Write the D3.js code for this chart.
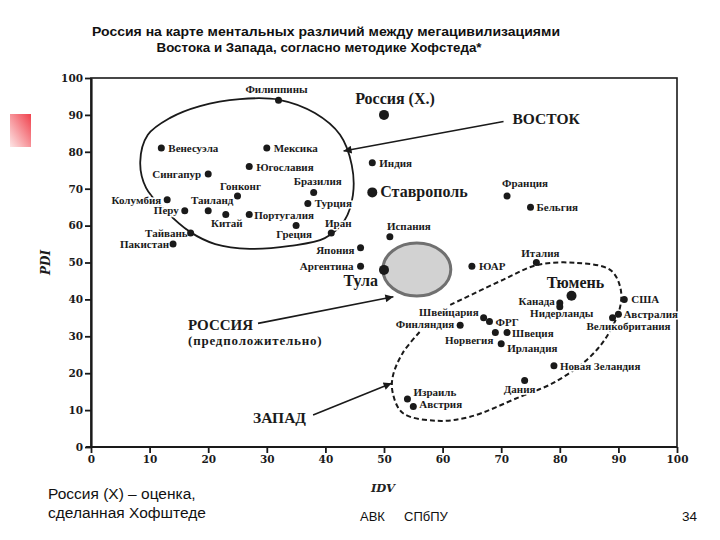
<!DOCTYPE html>
<html><head><meta charset="utf-8">
<script src="https://cdn.jsdelivr.net/npm/d3@7"></script>
<style>body{margin:0;background:#fff}svg{display:block}</style>
</head><body>
<svg id="c" width="720" height="540"></svg>
<script>
// ---- data ----
const countries = ["Филиппины","Венесуэла","Мексика","Югославия","Сингапур","Гонконг","Бразилия","Колумбия","Турция","Перу","Таиланд","Китай","Португалия","Греция","Иран","Тайвань","Пакистан","Япония","Аргентина","Индия","Франция","Бельгия","Испания","ЮАР","Италия","Канада","Нидерланды","США","Австралия","Великобритания","Швейцария","ФРГ","Финляндия","Норвегия","Швеция","Ирландия","Новая Зеландия","Дания","Израиль","Австрия"];
const idvValues = [32,12,30,27,20,25,38,13,37,16,20,23,27,35,41,17,14,46,46,48,71,75,51,65,76,80,80,91,90,89,67,68,63,69,71,70,79,74,54,55];
const pdiValues = [94,81,81,76,74,68,69,67,66,64,64,63,63,60,58,58,55,54,49,77,68,65,57,49,50,39,38,40,36,35,35,34,33,31,31,28,22,18,13,11];
const russiaNames = ["Россия (Х.)","Ставрополь","Тула","Тюмень"];
const russiaIdv = [50,48,50,82];
const russiaPdi = [90,69,48,41];
const xTicks = [0,10,20,30,40,50,60,70,80,90,100];
const yTicks = [0,10,20,30,40,50,60,70,80,90,100];
// outline of the "East" group (IDV, PDI)
const eastOutline = [[8.4,77.2],[9.7,84.6],[13.5,89.2],[18.6,92.4],[25.4,94.3],[32.1,94.1],[38.2,90.5],[42.5,84.6],[44.5,76.4],[44.7,68.3],[43.3,61.5],[39.9,56.6],[34.0,54.5],[27.1,53.7],[21.2,55.0],[16.9,58.3],[12.6,64.2],[9.4,70.2]];
// outline of the "West" group (IDV, PDI), open at Финляндия
const westOutline = [[61.3,38.5],[70.3,45.3],[76.1,49.3],[82.9,49.9],[88.6,48.0],[90.3,43.4],[90.3,38.0],[88.0,29.9],[84.6,23.6],[78.8,17.3],[73.2,13.6],[64.7,8.2],[59.0,7.1],[53.2,9.2],[51.5,14.6],[51.5,19.1],[53.2,25.5],[56.1,31.2]];
// assumed Russia zone: centre and radii (IDV, PDI)
const russiaZone = [55.6, 48.1, 5.8, 7.2];
// annotation arrows: label, from (IDV,PDI), to (IDV,PDI)
const arrowNames = ["ВОСТОК","РОССИЯ","ЗАПАД"];
const arrowFrom = [[70.4,88.2],[28.5,33.5],[37.9,8.7]];
const arrowTo = [[43.1,80.2],[51.6,40.7],[51.3,17.3]];

// ---- label placement ----
const labelPos = {
 "Филиппины":["middle",-2,-7],"Венесуэла":["start",7,4],"Мексика":["start",7,4],"Югославия":["start",7,4],
 "Сингапур":["end",-7,4],"Гонконг":["middle",3,-6],"Бразилия":["middle",4,-7],"Колумбия":["end",-6,4],
 "Турция":["start",7,4],"Перу":["end",-6,3],"Таиланд":["middle",4,-7],"Китай":["middle",1,12],
 "Португалия":["start",5,4],"Греция":["middle",-2,12],"Иран":["middle",7,-6],"Тайвань":["end",-3,4],
 "Пакистан":["end",-4,4],"Япония":["end",-6,6],"Аргентина":["end",-7,4],"Индия":["start",7,4],
 "Франция":["middle",18,-9],"Бельгия":["start",6,4],"Испания":["middle",19,-7],"ЮАР":["start",7,4],
 "Италия":["middle",4,-6],"Канада":["end",-5,2],"Нидерланды":["middle",2,10],"США":["start",7,4],
 "Австралия":["start",5,4],"Великобритания":["middle",16,12],"Швейцария":["end",-5,-2],"ФРГ":["start",6,4],
 "Финляндия":["end",-6,3],"Норвегия":["end",-2,11],"Швеция":["start",5,4],"Ирландия":["start",6,8],
 "Новая Зеландия":["start",6,4],"Дания":["middle",-5,12],"Израиль":["start",6,-3],"Австрия":["start",6,2],
 "Россия (Х.)":["middle",11,-11],"Ставрополь":["start",8,5],"Тула":["end",-6,16],"Тюмень":["middle",4,-8]
};

const svg = d3.select("#c");
const x = d3.scaleLinear().domain([0,100]).range([91,677]);
const y = d3.scaleLinear().domain([0,100]).range([447,78]);
const serif = "'Liberation Serif','Times New Roman',serif";
const ink = "#1a1a1a";

// slide decoration
const defs = svg.append("defs");
const grad = defs.append("linearGradient").attr("id","rg").attr("x1","1").attr("y1","0").attr("x2","0").attr("y2","1");
grad.append("stop").attr("offset","0").attr("stop-color","#f0404c");
grad.append("stop").attr("offset","1").attr("stop-color","#fde6e6");
svg.append("rect").attr("x",10).attr("y",114).attr("width",21).attr("height",33).attr("fill","url(#rg)");

defs.append("marker").attr("id","ah").attr("viewBox","0 0 10 10").attr("refX",10).attr("refY",5)
  .attr("markerWidth",12).attr("markerHeight",8).attr("markerUnits","userSpaceOnUse").attr("orient","auto")
  .append("path").attr("d","M0,0L10,5L0,10Z").attr("fill",ink);

// title
const title = svg.append("g").attr("font-family","'Liberation Sans',Arial,sans-serif").attr("font-weight","bold").attr("font-size",13.5).attr("fill","#111").attr("text-anchor","middle");
title.append("text").attr("x",326).attr("y",35.5).attr("textLength",468).attr("lengthAdjust","spacingAndGlyphs").text("Россия на карте ментальных различий между мегацивилизациями");
title.append("text").attr("x",319).attr("y",51.5).attr("textLength",325).attr("lengthAdjust","spacingAndGlyphs").text("Востока и Запада, согласно методике Хофстеда*");

// frame
svg.append("rect").attr("x",x(0)).attr("y",y(100)).attr("width",x(100)-x(0)).attr("height",y(0)-y(100))
  .attr("fill","none").attr("stroke",ink).attr("stroke-width",1.6);

// axes
const axFont = "'DejaVu Serif',serif";
const gx = svg.append("g").attr("transform",`translate(0,${y(0)})`)
  .call(d3.axisBottom(x).tickValues(xTicks).tickSize(6).tickSizeOuter(0).tickPadding(3));
const gy = svg.append("g").attr("transform",`translate(${x(0)},0)`)
  .call(d3.axisLeft(y).tickValues(yTicks).tickSize(6).tickSizeOuter(0).tickPadding(2));
[gx,gy].forEach(g=>{
  g.select(".domain").attr("stroke",ink).attr("stroke-width",2.2);
  g.selectAll(".tick line").attr("stroke",ink).attr("stroke-width",1.8);
  g.selectAll(".tick text").attr("font-family",axFont).attr("font-weight","bold").attr("font-size",10.5).attr("fill",ink);
});
gx.select(".domain").attr("d",`M${x(0)-5},0H${x(100)}`);

svg.append("text").attr("transform",`translate(50,${y(50)}) rotate(-90)`).attr("text-anchor","middle")
  .attr("font-family",axFont).attr("font-weight","bold").attr("font-style","italic").attr("font-size",12).attr("fill",ink).text("PDI");
svg.append("text").attr("x",383).attr("y",492).attr("text-anchor","middle")
  .attr("font-family",axFont).attr("font-weight","bold").attr("font-style","italic").attr("font-size",11.5).attr("fill","#222").text("IDV");

// group outlines
const line = d3.line().x(d=>x(d[0])).y(d=>y(d[1]));
svg.append("path").attr("d",line.curve(d3.curveCatmullRomClosed)(eastOutline))
  .attr("fill","none").attr("stroke",ink).attr("stroke-width",1.8);
svg.append("path").attr("d",line.curve(d3.curveCatmullRom)(westOutline))
  .attr("fill","none").attr("stroke",ink).attr("stroke-width",2).attr("stroke-dasharray","5,3");

// Russia zone
svg.append("ellipse").attr("cx",x(russiaZone[0])).attr("cy",y(russiaZone[1]))
  .attr("rx",x(russiaZone[2])-x(0)).attr("ry",y(0)-y(russiaZone[3]))
  .attr("fill","#d2d2d2").attr("stroke","#707070").attr("stroke-width",3);

// arrows
arrowNames.forEach((n,i)=>{
  svg.append("line").attr("x1",x(arrowFrom[i][0])).attr("y1",y(arrowFrom[i][1]))
    .attr("x2",x(arrowTo[i][0])).attr("y2",y(arrowTo[i][1]))
    .attr("stroke",ink).attr("stroke-width",1.6).attr("marker-end","url(#ah)");
});
const ann = svg.append("g").attr("font-family",serif).attr("font-weight","bold").attr("fill",ink);
ann.append("text").attr("x",x(arrowFrom[0][0])+9).attr("y",y(arrowFrom[0][1])+2.5).attr("font-size",15.5).text(arrowNames[0]);
ann.append("text").attr("x",x(arrowFrom[1][0])-70).attr("y",y(arrowFrom[1][1])+6.5).attr("font-size",15).text(arrowNames[1]);
ann.append("text").attr("x",x(arrowFrom[1][0])-70).attr("y",y(arrowFrom[1][1])+21.5).attr("font-size",13).attr("letter-spacing",0.8).text("(предположительно)");
ann.append("text").attr("x",x(arrowFrom[2][0])-60).attr("y",y(arrowFrom[2][1])+8.5).attr("font-size",15.5).text(arrowNames[2]);

// labels with halo
const pts = countries.map((n,i)=>({n, v:[idvValues[i],pdiValues[i]], big:false}))
  .concat(russiaNames.map((n,i)=>({n, v:[russiaIdv[i],russiaPdi[i]], big:true})));
svg.append("g").selectAll("text").data(pts).join("text")
  .attr("x",d=>x(d.v[0])+labelPos[d.n][1]).attr("y",d=>y(d.v[1])+labelPos[d.n][2])
  .attr("text-anchor",d=>labelPos[d.n][0])
  .attr("font-family",serif).attr("font-weight","bold")
  .attr("font-size",d=>d.big?16:11).attr("fill",ink)
  .attr("stroke","#fff").attr("stroke-width",3).attr("paint-order","stroke")
  .text(d=>d.n);
svg.append("g").selectAll("circle").data(pts).join("circle")
  .attr("cx",d=>x(d.v[0])).attr("cy",d=>y(d.v[1])).attr("r",d=>d.big?5:3.5).attr("fill",ink);

// footer
const ft = svg.append("g").attr("font-family","'Liberation Sans',Arial,sans-serif").attr("fill","#111");
ft.append("text").attr("x",48).attr("y",499).attr("font-size",15.5).text("Россия (Х) – оценка,");
ft.append("text").attr("x",48).attr("y",518).attr("font-size",15.5).text("сделанная Хофштеде");
ft.append("text").attr("x",360).attr("y",521).attr("font-size",13).text("АВК");
ft.append("text").attr("x",404).attr("y",521).attr("font-size",13).text("СПбПУ");
ft.append("text").attr("x",697).attr("y",521).attr("font-size",13.5).attr("text-anchor","end").text("34");
</script>
</body></html>
